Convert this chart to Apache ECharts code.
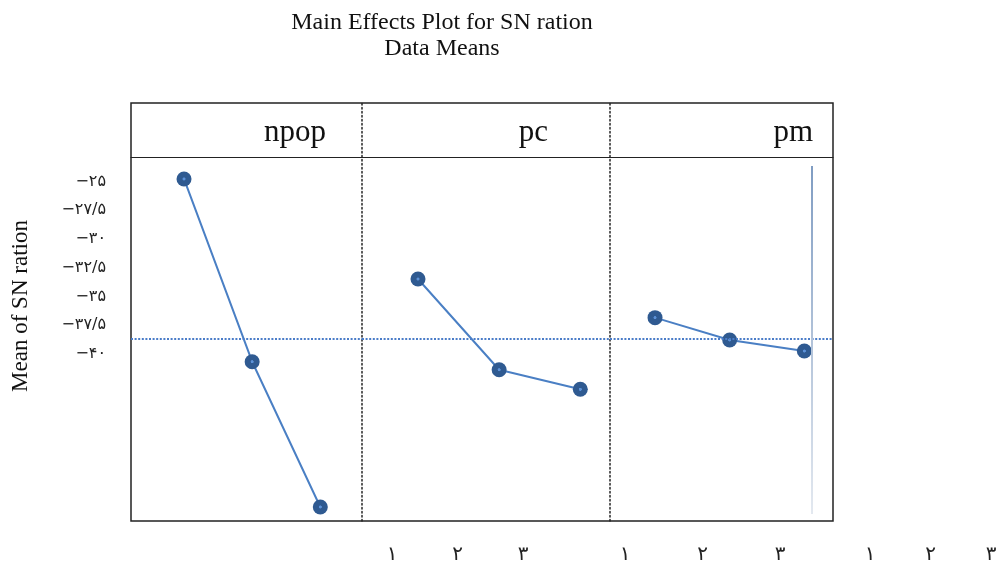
<!DOCTYPE html>
<html>
<head>
<meta charset="utf-8">
<script src="https://cdn.jsdelivr.net/npm/echarts@6/dist/echarts.min.js"></script>
<style>html,body{margin:0;padding:0;background:#fff}#c{width:1001px;height:565px}</style>
</head>
<body>
<div id="c"></div>
<script>
// ---- data ----
const factors = ['npop', 'pc', 'pm'];
const levels = [1, 2, 3];
const npopMeans = [-24.78, -40.67, -53.30];
const pcMeans = [-33.48, -41.37, -43.07];
const pmMeans = [-36.84, -38.78, -39.74];
const overallMean = -38.63;
const yTickValues = [-25, -27.5, -30, -32.5, -35, -37.5, -40];
const xTickLabels = ['۱', '۲', '۳'];
const titleText = 'Main Effects Plot for SN ration';
const subtitleText = 'Data Means';
const yAxisName = 'Mean of SN ration';

// ---- layout ----
const yMin = -54.52, yMax = -22.87;
const panels = [
  { l: 131, r: 362, xMin: 0.222, xMax: 3.612, labL: 392, labR: 523, headRight: 675 },
  { l: 362, r: 610, xMin: 0.31, xMax: 3.366, labL: 625, labR: 780, headRight: 453 },
  { l: 610, r: 833, xMin: 0.397, xMax: 3.384, labL: 870, labR: 991, headRight: 188 }
];
const meansByFactor = [npopMeans, pcMeans, pmMeans];
const boxTop = 103, headBottom = 157, boxBottom = 521;
const vLine = { x: 3.1, y1: -23.65, y2: -53.91 };

const persianDigits = '۰۱۲۳۴۵۶۷۸۹';
function toPersian(v) {
  let s = String(Math.abs(v)).replace(/[0-9]/g, d => persianDigits[+d]).replace('.', '/');
  return (v < 0 ? '\u2212' : '') + s;
}

const chart = echarts.init(document.getElementById('c'), null, { renderer: 'canvas' });

const grid = [], xAxis = [], yAxis = [], series = [];
const serif = 'Liberation Serif, Times New Roman, serif';

// outer box
grid.push({ left: 131, top: boxTop, width: 833 - 131, height: boxBottom - boxTop, show: true, borderColor: '#222', borderWidth: 1.5, backgroundColor: 'transparent' });
xAxis.push({ gridIndex: 0, type: 'value', show: false });
yAxis.push({ gridIndex: 0, type: 'value', show: false });

// frame grids (dotted separators)
panels.forEach((p, i) => {
  const gi = grid.length;
  grid.push({ left: p.l, top: boxTop, width: p.r - p.l, height: boxBottom - boxTop });
  xAxis.push({ gridIndex: gi, type: 'value', show: false });
  yAxis.push({ gridIndex: gi, type: 'value', show: i > 0, axisLine: { show: i > 0, lineStyle: { color: '#222', width: 1.5, type: [1.5, 2.5] } }, axisTick: { show: false }, axisLabel: { show: false }, splitLine: { show: false } });
});

// data grids
panels.forEach((p, i) => {
  const gi = grid.length;
  grid.push({ left: p.l, top: headBottom, width: p.r - p.l, height: boxBottom - headBottom });
  xAxis.push({ gridIndex: gi, type: 'value', position: 'top', min: p.xMin, max: p.xMax,
    axisLine: { show: true, onZero: false, lineStyle: { color: '#222', width: 1.2 } },
    axisTick: { show: false }, axisLabel: { show: false }, splitLine: { show: false } });
  yAxis.push({ gridIndex: gi, type: 'value', min: yMin, max: yMax,
    axisLine: { show: false }, axisTick: { show: false }, splitLine: { show: false },
    axisLabel: i === 0 ? { show: true, customValues: yTickValues, formatter: v => toPersian(v), margin: 25, padding: [3, 0, 0, 0], fontSize: 16, fontFamily: 'DejaVu Sans', color: '#222' } : { show: false } });
  const markData = [{ yAxis: overallMean, lineStyle: { color: '#4a7cc8', width: 2, type: [2, 1.6] } }];
  if (i === 2) {
    markData.push([
      { coord: [vLine.x, vLine.y1], lineStyle: { width: 2, type: 'solid', color: new echarts.graphic.LinearGradient(0, 0, 0, 1, [{ offset: 0, color: '#7f9cc2' }, { offset: 1, color: '#e4e9f0' }]) } },
      { coord: [vLine.x, vLine.y2] }
    ]);
  }
  series.push({
    type: 'line', name: factors[i], xAxisIndex: gi, yAxisIndex: gi,
    data: levels.map((l, j) => [l, meansByFactor[i][j]]),
    symbol: 'circle', symbolSize: 15,
    itemStyle: { color: new echarts.graphic.RadialGradient(0.5, 0.5, 0.5, [
      { offset: 0, color: '#5d92d8' }, { offset: 0.16, color: '#5d92d8' },
      { offset: 0.24, color: '#2f5a91' }, { offset: 1, color: '#2f5a91' }]) },
    lineStyle: { color: '#4a7fc4', width: 2 },
    emphasis: { disabled: true },
    markLine: { silent: true, symbol: 'none', label: { show: false }, animation: false, data: markData },
    z: 3
  });
});

// label grids (x tick labels)
panels.forEach((p, i) => {
  const gi = grid.length;
  grid.push({ left: p.labL, top: 500, width: p.labR - p.labL, height: 20 });
  xAxis.push({ gridIndex: gi, type: 'value', min: 1, max: 3, interval: 1,
    axisLine: { show: false }, axisTick: { show: false }, splitLine: { show: false },
    axisLabel: { show: true, showMinLabel: true, showMaxLabel: true, margin: 27, fontSize: 20, fontFamily: 'DejaVu Sans', color: '#222', formatter: v => xTickLabels[Math.round(v) - 1] } });
  yAxis.push({ gridIndex: gi, type: 'value', show: false });
});

const titles = [{
  text: titleText + '\n' + subtitleText, left: 442, top: 10, textAlign: 'center', padding: 0,
  textStyle: { fontFamily: serif, fontSize: 24, fontWeight: 'normal', color: '#111', lineHeight: 26 }
}];
panels.forEach((p, i) => {
  titles.push({ text: factors[i], right: p.headRight, top: 117, padding: 0,
    textStyle: { fontFamily: serif, fontSize: 31, fontWeight: 'normal', color: '#111' } });
});

chart.setOption({
  animation: false,
  backgroundColor: '#fff',
  title: titles,
  grid, xAxis, yAxis, series,
  graphic: [{
    type: 'text', x: 21, y: 306, rotation: Math.PI / 2,
    style: { text: yAxisName, fill: '#111', font: '23px ' + serif, textAlign: 'center', textVerticalAlign: 'middle' }
  }]
});
</script>
</body>
</html>
